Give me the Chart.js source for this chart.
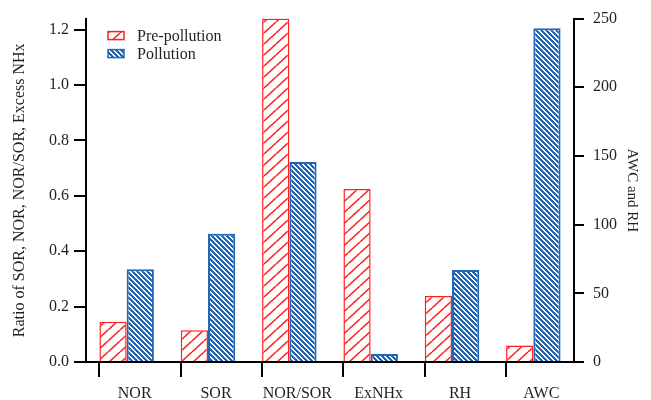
<!DOCTYPE html>
<html>
<head>
<meta charset="utf-8">
<script src="https://cdn.jsdelivr.net/npm/chart.js@4.4.0/dist/chart.umd.min.js"></script>
<style>
  html, body { margin: 0; padding: 0; background: #fff; }
  #wrap { width: 651px; height: 400px; }
</style>
</head>
<body>
<div id="wrap"><canvas id="myChart"></canvas></div>
<script>
const categories = ['NOR', 'SOR', 'NOR/SOR', 'ExNHx', 'RH', 'AWC'];
const seriesNames = ['Pre-pollution', 'Pollution'];

// ratios, read on the left axis (RH and AWC are on the right one)
const preRatio = [0.145, 0.115, 1.24, 0.625, null, null];
const polRatio = [0.335, 0.463, 0.722, 0.029, null, null];

// RH and AWC, read on the right axis
const preRight = [null, null, null, null, 48, 12];
const polRight = [null, null, null, null, 67, 243];

const leftTicks = [0, 0.2, 0.4, 0.6, 0.8, 1.0, 1.2];
const rightTicks = [0, 50, 100, 150, 200, 250];

const RED = '#ff1f1f';
const BLUE = '#2466b6';
const TXT = '#231f20';
const FONT = 'Liberation Serif, Times New Roman, serif';

// red "/" hatch, thin lines on white
function redHatch(w, h, lw) {
    const c = document.createElement('canvas');
    c.width = w; c.height = h;
    const g = c.getContext('2d');
    g.fillStyle = '#fff';
    g.fillRect(0, 0, w, h);
    g.strokeStyle = RED;
    g.lineWidth = lw;
    for (let k = -1; k <= 1; k++) {
        g.beginPath();
        g.moveTo(k * w, h);
        g.lineTo(k * w + w, 0);
        g.stroke();
    }
    return g.createPattern(c, 'repeat');
}

// blue "\" stripes, drawn pixel by pixel so they stay crisp
function blueStripes(n, on) {
    const c = document.createElement('canvas');
    c.width = n; c.height = n;
    const g = c.getContext('2d');
    for (let y = 0; y < n; y++) {
        for (let x = 0; x < n; x++) {
            g.fillStyle = (((x - y) % n) + n) % n < on ? BLUE : '#fff';
            g.fillRect(x, y, 1, 1);
        }
    }
    return g.createPattern(c, 'repeat');
}

const ctx = document.getElementById('myChart').getContext('2d');
const redFill = redHatch(12, 11, 1.5);
const blueFill = blueStripes(5, 3);

const preStyle = { backgroundColor: redFill, borderColor: RED, borderWidth: 1.5 };
const polStyle = { backgroundColor: blueFill, borderColor: BLUE, borderWidth: 2 };

// tick marks under the groups + legend inside the plot
const extras = {
    id: 'extras',
    afterDraw(chart) {
        const c = chart.ctx;
        const area = chart.chartArea;
        c.save();
        c.strokeStyle = '#000';
        c.lineWidth = 2;
        categories.forEach((cat, i) => {
            const d = chart.data.datasets.findIndex(ds => ds.data[i] !== null);
            const el = chart.getDatasetMeta(d).data[i];
            const x = Math.round(el.x - el.width / 2);
            c.beginPath();
            c.moveTo(x, area.bottom);
            c.lineTo(x, area.bottom + 15);
            c.stroke();
        });

        const styles = [preStyle, polStyle];
        c.font = '16px ' + FONT;
        c.textBaseline = 'middle';
        seriesNames.forEach((name, i) => {
            const y = area.top + 17 + i * 18;
            const bx = area.left + 22;
            c.fillStyle = styles[i].backgroundColor;
            c.fillRect(bx, y - 4, 16, 8);
            c.strokeStyle = styles[i].borderColor;
            c.lineWidth = 1.5;
            c.strokeRect(bx, y - 4, 16, 8);
            c.fillStyle = TXT;
            c.fillText(name, area.left + 51, y + 1);
        });
        c.restore();
    }
};

new Chart(ctx, {
    type: 'bar',
    data: {
        labels: categories,
        datasets: [
            { label: seriesNames[0], data: preRatio, yAxisID: 'y', ...preStyle },
            { label: seriesNames[1], data: polRatio, yAxisID: 'y', ...polStyle },
            { label: seriesNames[0], data: preRight, yAxisID: 'y1', ...preStyle },
            { label: seriesNames[1], data: polRight, yAxisID: 'y1', ...polStyle }
        ]
    },
    options: {
        responsive: true,
        maintainAspectRatio: false,
        animation: false,
        layout: { padding: { top: 17, left: 0, right: 0, bottom: 0 } },
        datasets: {
            bar: { skipNull: true, categoryPercentage: 0.67, barPercentage: 1.0 }
        },
        plugins: {
            legend: { display: false },
            tooltip: { enabled: false }
        },
        scales: {
            x: {
                offset: true,
                grid: { display: true, drawOnChartArea: false, drawTicks: false },
                border: { display: true, color: '#000', width: 2 },
                ticks: {
                    color: TXT, font: { family: FONT, size: 16 },
                    padding: 22, labelOffset: 8, maxRotation: 0, autoSkip: false
                },
                afterFit: s => { s.height = 38; }
            },
            y: {
                position: 'left',
                min: 0,
                max: 1.24,
                afterBuildTicks: s => { s.ticks = leftTicks.map(v => ({ value: v })); },
                ticks: {
                    color: TXT, font: { family: FONT, size: 16 }, padding: 5,
                    callback: v => Number(v).toFixed(1)
                },
                grid: { drawOnChartArea: false, tickLength: 12, color: '#000', lineWidth: 2 },
                border: { display: true, color: '#000', width: 2 },
                title: {
                    display: true, text: 'Ratio of SOR, NOR, NOR/SOR, Excess NHx',
                    color: TXT, font: { family: FONT, size: 16 }, padding: { top: 10, bottom: 0 }
                },
                afterFit: s => { s.width = 86; }
            },
            y1: {
                position: 'right',
                min: 0,
                max: 250,
                afterBuildTicks: s => { s.ticks = rightTicks.map(v => ({ value: v })); },
                ticks: { color: TXT, font: { family: FONT, size: 16 }, padding: 9 },
                grid: { drawOnChartArea: false, tickLength: 10, color: '#000', lineWidth: 2 },
                border: { display: true, color: '#000', width: 2 },
                title: {
                    display: true, text: 'AWC and RH',
                    color: TXT, font: { family: FONT, size: 15 }, padding: { top: 10, bottom: 0 }
                },
                afterFit: s => { s.width = 77; }
            }
        }
    },
    plugins: [extras]
});
</script>
</body>
</html>
